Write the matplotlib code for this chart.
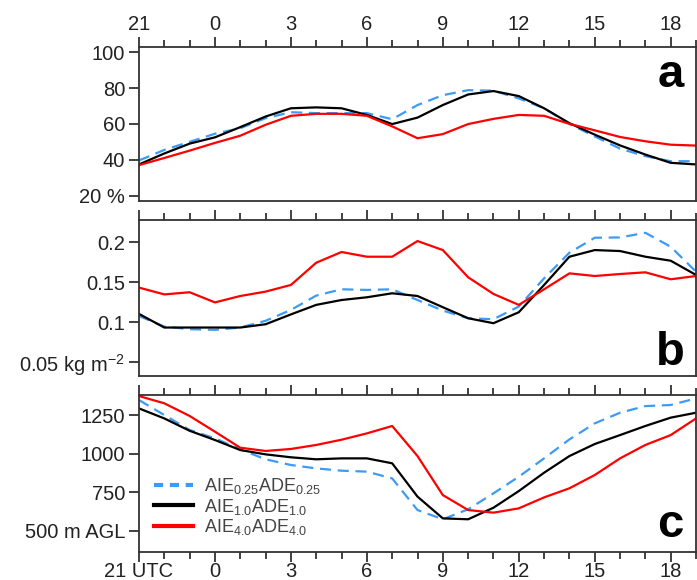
import matplotlib
matplotlib.use("Agg")
import matplotlib.pyplot as plt
from matplotlib.ticker import MultipleLocator, FixedLocator, FixedFormatter

plt.rcParams['font.family'] = ['Liberation Sans', 'DejaVu Sans']
plt.rcParams['mathtext.default'] = 'regular'

# hours since 00 UTC, starting at 21 UTC of the previous day
hours = list(range(-3, 20))

# a: cloud / relative quantity (%)
a_025 = [39.6, 45.5, 50.0, 54.5, 57.6, 63.2, 66.5, 66.0, 66.0, 66.0, 62.6, 70.5,
         76.0, 78.8, 78.5, 74.2, 68.7, 60.0, 53.0, 46.2, 42.0, 39.2, 39.2]
a_10 = [37.4, 43.5, 49.0, 52.5, 58.2, 64.1, 68.7, 69.2, 68.7, 65.0, 59.9, 63.5,
        70.5, 76.4, 78.3, 75.5, 68.7, 60.4, 54.0, 48.0, 42.9, 38.3, 37.4]
a_40 = [37.0, 41.0, 45.1, 49.4, 53.4, 59.5, 64.5, 65.6, 65.6, 64.5, 58.6, 52.0,
        54.3, 59.9, 62.8, 65.0, 64.5, 60.0, 56.4, 52.7, 50.3, 48.4, 47.9]

# b: kg m-2
b_025 = [0.108, 0.0948, 0.0915, 0.0907, 0.0936, 0.102, 0.1156, 0.1335, 0.1414, 0.1406,
         0.1414, 0.128, 0.1148, 0.1052, 0.104, 0.1198, 0.1551, 0.1871, 0.2058, 0.2062,
         0.212, 0.1946, 0.1634]
b_10 = [0.1106, 0.0936, 0.0936, 0.0936, 0.0936, 0.0977, 0.110, 0.1219, 0.128, 0.1314,
        0.1364, 0.133, 0.119, 0.1052, 0.099, 0.1127, 0.1468, 0.1821, 0.1904, 0.1892,
        0.1821, 0.1771, 0.1593]
b_40 = [0.1435, 0.135, 0.1377, 0.125, 0.133, 0.1385, 0.1468, 0.1746, 0.188, 0.1821,
        0.1821, 0.2017, 0.1904, 0.1564, 0.1356, 0.1219, 0.1414, 0.1613, 0.158, 0.1605,
        0.1626, 0.1539, 0.158]

# c: m AGL
c_025 = [1347, 1250, 1153, 1099, 1027, 963, 926, 904, 889, 883, 839, 634,
         574, 639, 742, 850, 969, 1092, 1196, 1265, 1308, 1315, 1358]
c_10 = [1293, 1228, 1148, 1088, 1023, 995, 976, 963, 969, 969, 937, 721,
        580, 574, 649, 757, 876, 984, 1062, 1120, 1179, 1233, 1265]
c_40 = [1373, 1326, 1244, 1142, 1038, 1017, 1030, 1056, 1090, 1131, 1179, 984,
        731, 634, 617, 645, 716, 775, 861, 969, 1056, 1120, 1228]

labels = ['AIE$_{0.25}$ADE$_{0.25}$', 'AIE$_{1.0}$ADE$_{1.0}$', 'AIE$_{4.0}$ADE$_{4.0}$']
colors = ['#3d9bf5', 'black', '#ff0000']

xticks = [-3, 0, 3, 6, 9, 12, 15, 18]
xlabels_top = ['21', '0', '3', '6', '9', '12', '15', '18']
xlabels_bot = ['21 UTC', '0', '3', '6', '9', '12', '15', '18']

fig = plt.figure(figsize=(6.97, 5.8), dpi=100)
ax_a = fig.add_axes([0.1994, 0.6534, 0.7992, 0.266])
ax_b = fig.add_axes([0.1994, 0.3517, 0.7992, 0.269])
ax_c = fig.add_axes([0.1994, 0.0483, 0.7992, 0.2707])

spine_col = '#333333'
panels = [
    (ax_a, [a_025, a_10, a_40], (17, 103), [20, 40, 60, 80, 100],
     ['20 %', '40', '60', '80', '100'], 'a'),
    (ax_b, [b_025, b_10, b_40], (0.033, 0.228), [0.05, 0.1, 0.15, 0.2],
     ['0.05 kg m$^{-2}$', '0.1', '0.15', '0.2'], 'b'),
    (ax_c, [c_025, c_10, c_40], (362, 1380), [500, 750, 1000, 1250],
     ['500 m AGL', '750', '1000', '1250'], 'c'),
]

for ax, series, ylim, yt, ytl, letter in panels:
    for vals, col, lab in zip(series, colors, labels):
        if col == colors[0]:
            ax.plot(hours, vals, color=col, lw=1.6, dashes=(5, 3), label=lab)
        else:
            ax.plot(hours, vals, color=col, lw=1.6, label=lab)
    ax.set_xlim(-3, 19)
    ax.set_ylim(*ylim)
    ax.xaxis.set_major_locator(FixedLocator(xticks))
    ax.xaxis.set_minor_locator(MultipleLocator(1))
    ax.yaxis.set_major_locator(FixedLocator(yt))
    ax.yaxis.set_major_formatter(FixedFormatter(ytl))
    for sp in ax.spines.values():
        sp.set_color(spine_col)
        sp.set_linewidth(1.3)
    ax.tick_params(axis='both', which='both', direction='out', colors=spine_col,
                   labelcolor='#222222', labelsize=14.5, width=1.3)
    ax.tick_params(axis='both', which='major', length=7)
    ax.tick_params(axis='x', which='minor', length=5)
    ax.tick_params(axis='x', which='both', top=True, bottom=False,
                   labeltop=False, labelbottom=False)
    ax.tick_params(axis='y', which='both', right=False, pad=3)

# panel letters
ax_a.text(0.978, 0.74, 'a', transform=ax_a.transAxes, ha='right', va='baseline',
          fontsize=34, fontweight='bold')
ax_b.text(0.98, 0.07, 'b', transform=ax_b.transAxes, ha='right', va='baseline',
          fontsize=34, fontweight='bold')
ax_c.text(0.978, 0.096, 'c', transform=ax_c.transAxes, ha='right', va='baseline',
          fontsize=34, fontweight='bold')

ax_a.tick_params(axis='x', which='both', labeltop=True, pad=2)
ax_a.set_xticklabels(xlabels_top)

ax_c.tick_params(axis='x', which='both', bottom=True, labelbottom=True, pad=0.5)
ax_c.set_xticklabels(xlabels_bot)

leg = ax_c.legend(loc='lower left', bbox_to_anchor=(0.01, 0.035), frameon=False,
                  fontsize=13, handlelength=2.2, labelspacing=0.04, borderpad=0,
                  handletextpad=0.6)
for t in leg.get_texts():
    t.set_color('#444444')
for ln in leg.get_lines():
    ln.set_linewidth(3)
leg.get_lines()[0].set_dashes((2.2, 1.6))

fig.savefig('out.png', dpi=100)
